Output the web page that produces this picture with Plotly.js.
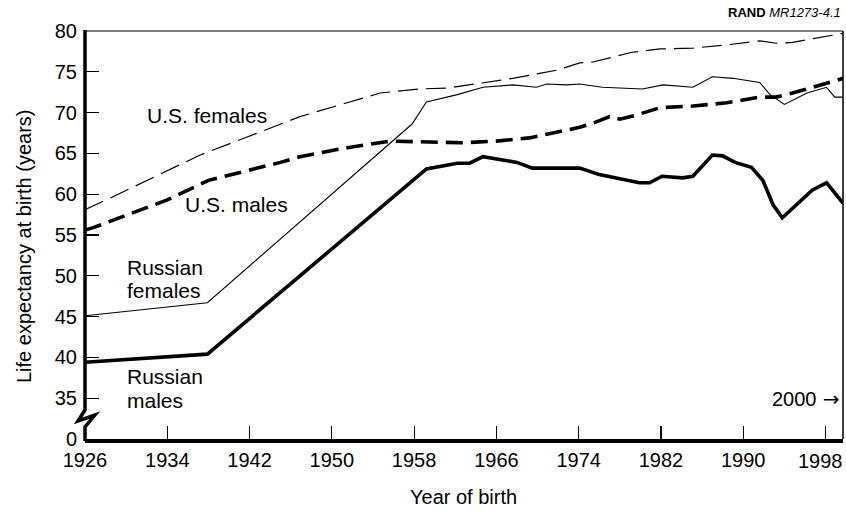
<!DOCTYPE html>
<html>
<head>
<meta charset="utf-8">
<script src="https://cdn.plot.ly/plotly-3.0.1.min.js"></script>
<style>html,body{margin:0;padding:0;background:#fff;}#chart{width:846px;height:514px;}</style>
</head>
<body>
<div id="chart"></div>
<script>
// ---- Data ----
const usFemalesYears = [1926, 1928.4, 1937.2, 1946.9, 1954.7, 1958.6, 1961.2, 1964.4, 1967.6, 1971.9, 1974.1, 1975.4, 1979.2, 1981.9, 1985.1, 1988.4, 1991.6, 1993.2, 1994.8, 1996.5, 1999.7];
const usFemales      = [58.1, 59.5, 64.8, 69.5, 72.4, 72.9, 73.0, 73.6, 74.2, 75.2, 76.1, 76.2, 77.4, 77.8, 77.9, 78.3, 78.8, 78.5, 78.6, 79.0, 79.7];

const usMalesYears = [1926, 1926.8, 1934.0, 1938.0, 1945.0, 1946.9, 1951.5, 1955.6, 1959.5, 1962.7, 1966.0, 1969.2, 1971.5, 1974.1, 1975.4, 1977.0, 1978.0, 1979.6, 1981.9, 1985.1, 1988.4, 1991.6, 1993.2, 1994.8, 1998.1, 1999.7];
const usMales      = [55.6, 55.9, 59.3, 61.7, 63.9, 64.6, 65.7, 66.5, 66.4, 66.3, 66.5, 66.9, 67.5, 68.2, 68.7, 69.5, 69.2, 69.7, 70.6, 70.8, 71.2, 71.9, 71.9, 72.4, 73.6, 74.2];

const ruFemalesYears = [1926, 1937.9, 1957.8, 1959.2, 1962.2, 1964.7, 1967.6, 1969.9, 1970.9, 1972.8, 1974.1, 1976.3, 1980.2, 1982.2, 1985.1, 1987.0, 1989.0, 1991.6, 1992.6, 1994.0, 1996.2, 1998.1, 1998.9, 1999.7];
const ruFemales      = [45.1, 46.7, 68.6, 71.3, 72.2, 73.1, 73.4, 73.1, 73.5, 73.4, 73.5, 73.1, 72.9, 73.4, 73.1, 74.4, 74.2, 73.7, 72.2, 71.0, 72.4, 73.1, 71.9, 71.9];

const ruMalesYears = [1926, 1937.9, 1959.2, 1962.2, 1963.4, 1964.7, 1968.0, 1969.5, 1974.1, 1976.0, 1979.9, 1980.9, 1982.1, 1984.1, 1985.1, 1987.0, 1988.0, 1989.2, 1990.8, 1991.9, 1992.9, 1993.8, 1996.7, 1998.1, 1999.7];
const ruMales      = [39.4, 40.4, 63.1, 63.8, 63.8, 64.6, 63.9, 63.2, 63.2, 62.4, 61.4, 61.4, 62.2, 62.0, 62.2, 64.8, 64.7, 63.9, 63.3, 61.7, 58.7, 57.1, 60.5, 61.4, 58.9];

const xTickVals = [1926, 1934, 1942, 1950, 1958, 1966, 1974, 1982, 1990, 1998];
const xTickText = ["1926", "1934", "1942", "1950", "1958", "1966", "1974", "1982", "1990", ""];
const lastXLabel = "1998";   // drawn flush with the right edge
const yTickVals = [30, 35, 40, 45, 50, 55, 60, 65, 70, 75, 80];
const yTickText = ["0", "35", "40", "45", "50", "55", "60", "65", "70", "75", "80"];

// ---- Layout helpers ----
const FONT = "Liberation Sans, Arial, Helvetica, sans-serif";
const M = {l: 85, r: 3, t: 31, b: 75};
const W = 846, H = 514;
const PW = W - M.l - M.r, PH = H - M.t - M.b;
const px = x => (x - M.l) / PW;
const py = y => (H - M.b - y) / PH;

const traces = [
  {x: usFemalesYears, y: usFemales, name: "U.S. females", mode: "lines",
   line: {color: "#000", width: 1.2, dash: "20px,8px"}},
  {x: usMalesYears, y: usMales, name: "U.S. males", mode: "lines",
   line: {color: "#000", width: 3.6, dash: "17px,8px"}},
  {x: ruFemalesYears, y: ruFemales, name: "Russian females", mode: "lines",
   line: {color: "#000", width: 1.1}},
  {x: ruMalesYears, y: ruMales, name: "Russian males", mode: "lines",
   line: {color: "#000", width: 3.6}}
];

function ann(text, x, y, opts) {
  return Object.assign({text: text, xref: "paper", yref: "paper", x: px(x), y: py(y),
    xanchor: "center", yanchor: "middle",
    showarrow: false, font: {family: FONT, size: 21, color: "#000"}}, opts || {});
}

const layout = {
  width: W, height: H,
  margin: M,
  paper_bgcolor: "#fff", plot_bgcolor: "#fff",
  showlegend: false,
  font: {family: FONT, color: "#000"},
  xaxis: {
    range: [1926, 1999.7], tickvals: xTickVals, ticktext: xTickText,
    ticks: "inside", ticklen: 13, tickwidth: 1.2, tickcolor: "#000",
    showgrid: false, zeroline: false,
    showline: true, linewidth: 3.5, linecolor: "#000",
    ticklabelstandoff: 0,
    tickfont: {family: FONT, size: 20, color: "#000"}
  },
  yaxis: {
    range: [30, 80], tickvals: yTickVals, ticktext: yTickText,
    ticks: "inside", ticklen: 14, tickwidth: 1.2, tickcolor: "#000",
    showgrid: false, zeroline: false, showline: false,
    ticklabelstandoff: 7, ticklabeloverflow: "allow",
    tickfont: {family: FONT, size: 20, color: "#000"}
  },
  shapes: [
    // top border (thin)
    {type: "line", xref: "paper", yref: "paper", x0: 0, x1: 1, y0: 1, y1: 1, line: {color: "#000", width: 1}},
    // right border
    {type: "line", xref: "paper", yref: "paper", x0: 1, x1: 1, y0: 0, y1: 1, line: {color: "#000", width: 1.5}},
    // left axis with break
    {type: "path", xref: "paper", yref: "paper", xsizemode: "pixel", ysizemode: "pixel",
     xanchor: 0, yanchor: 0,
     path: "M0,409 L0,29 L-7,18 L10,24 L0,12 L0,-2",
     line: {color: "#000", width: 3.5}}
  ],
  annotations: [
    ann("<b>RAND</b> <i>MR1273-4.1</i>", 843, 13, {xanchor: "right", font: {family: FONT, size: 13, color: "#000"}}),
    ann("U.S. females", 207, 115),
    ann("U.S. males", 236, 204),
    ann("Russian", 125, 267, {xanchor: "left"}),
    ann("females", 125, 290, {xanchor: "left"}),
    ann("Russian", 125, 376, {xanchor: "left"}),
    ann("males", 125, 400, {xanchor: "left"}),
    ann("2000<span style=\"font-family:'DejaVu Sans'\"> →</span>", 842, 399, {xanchor: "right", font: {family: FONT, size: 20, color: "#000"}}),
    ann(lastXLabel, 845, 461, {xanchor: "right", font: {family: FONT, size: 20, color: "#000"}}),
    ann("Year of birth", 463, 497, {font: {family: FONT, size: 20, color: "#000"}}),
    ann("Life expectancy at birth (years)", 24, 247, {textangle: -90, font: {family: FONT, size: 20, color: "#000"}})
  ]
};

Plotly.newPlot("chart", traces, layout, {staticPlot: true, displayModeBar: false});
</script>
</body>
</html>
